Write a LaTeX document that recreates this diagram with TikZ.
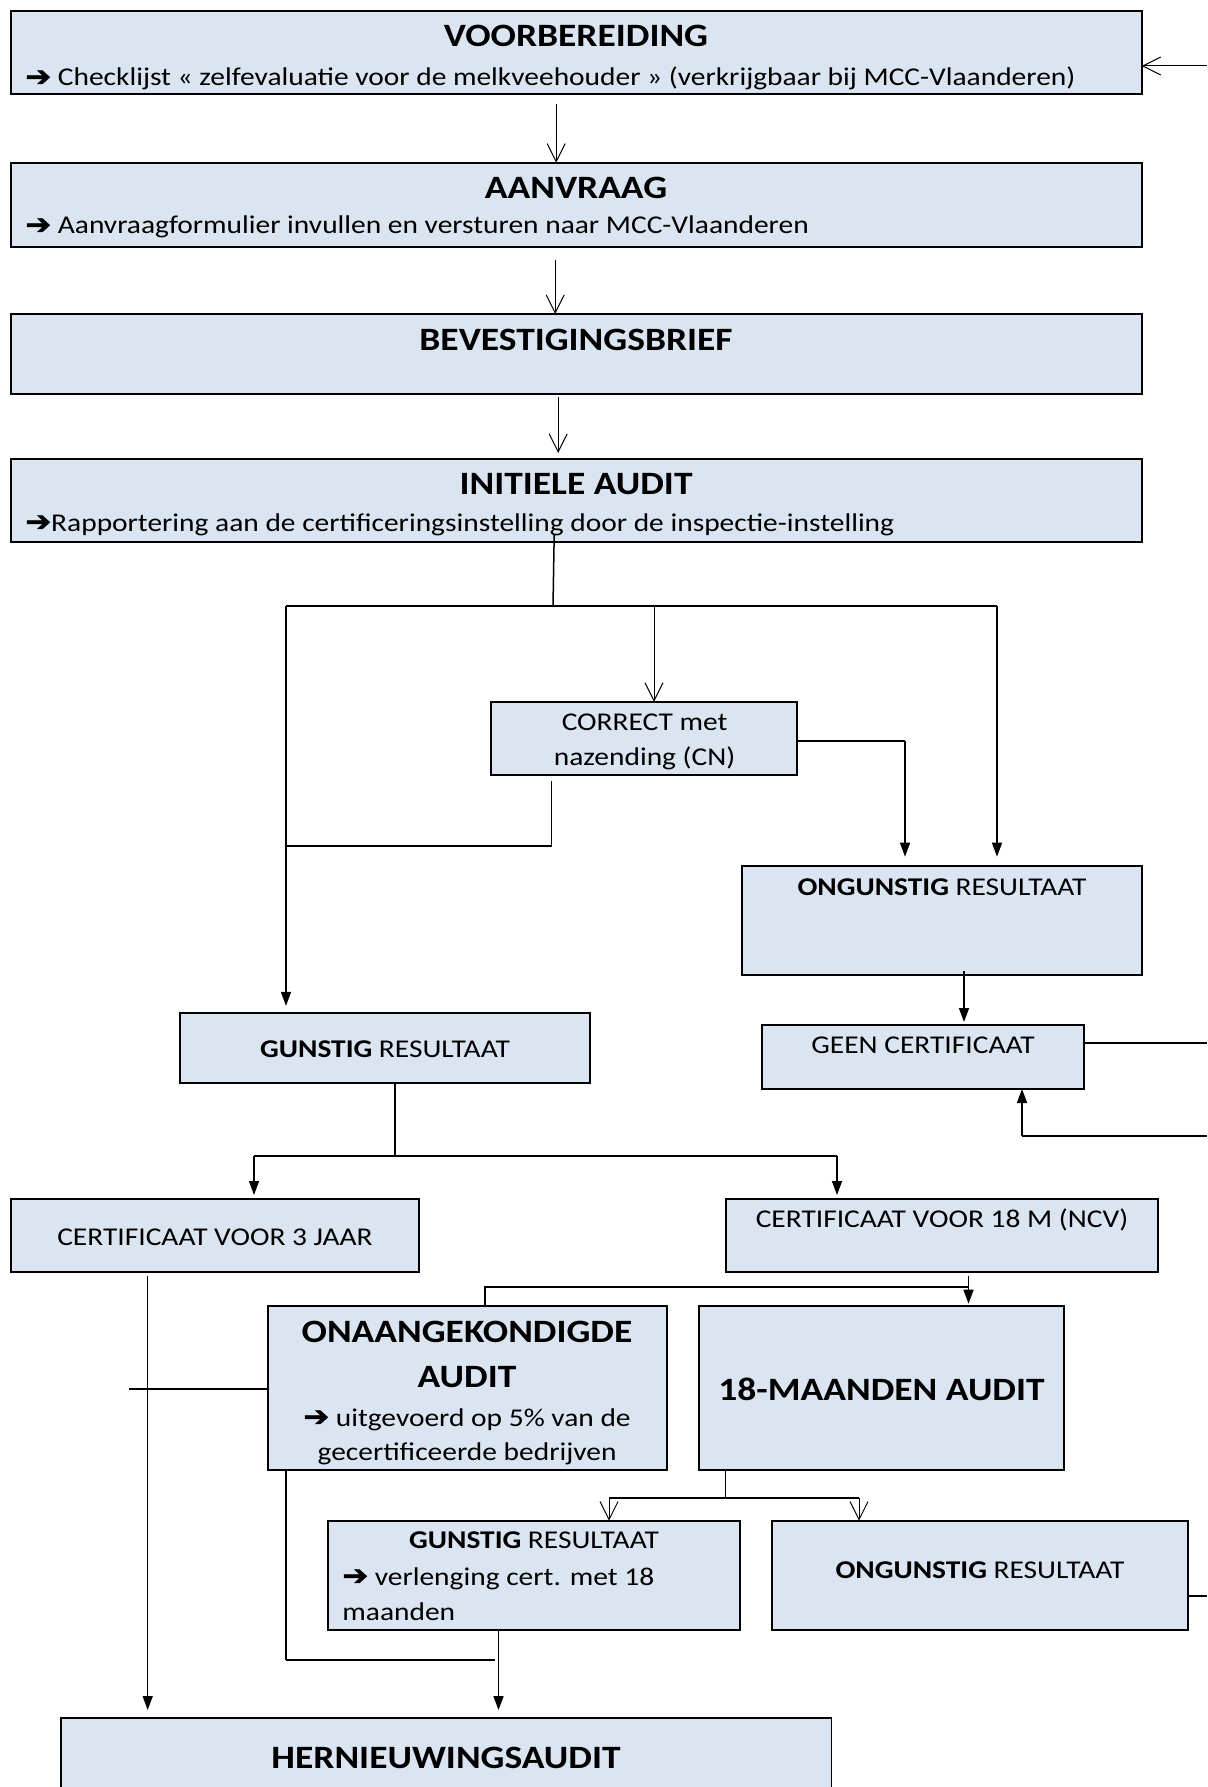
\documentclass[tikz,border=0pt]{standalone}
\usepackage{fontspec}
\setmainfont{Carlito}[FakeStretch=1.15]
\newfontfamily\symf{DejaVu Sans}[FakeStretch=1.1,FakeBold=2]
\usetikzlibrary{arrows.meta,fit,calc}
\definecolor{boxfill}{HTML}{DBE5F1}
\newcommand{\rarr}{{\symf\fontsize{14}{14}\selectfont ➔}}
\newcommand{\mybox}[5]{\path (#2,#3) coordinate (#1-a) (#4,#5) coordinate (#1-b); \node[box,fit=(#1-a)(#1-b)] (#1) {};}
\begin{document}
\begin{tikzpicture}[x=0.5pt,y=-0.5pt,
  box/.style={draw=black,fill=boxfill,line width=0.9pt,inner sep=0pt,outer sep=0pt},
  ttl/.style={anchor=base,inner sep=0pt,font=\fontsize{16.3}{19}\selectfont\bfseries},
  txt/.style={anchor=base west,inner sep=0pt,font=\fontsize{12.8}{15}\selectfont},
  stxt/.style={anchor=base,inner sep=0pt,font=\fontsize{12.8}{15}\selectfont},
  thinline/.style={line width=0.5pt},
  conn/.style={line width=0.75pt},
  heavyline/.style={line width=1.1pt},
  openarr/.style={thinline,-{Straight Barb[length=9pt,width=9pt]}},
  solidarr/.style={conn,-{Triangle[length=7pt,width=5pt]}}]
\useasboundingbox (0,0) rectangle (1207,1787);
\clip (0,0) rectangle (1207,1787);
\fill[white] (0,0) rectangle (1207,1787);

% boxes
\mybox{voor}{10.8}{11}{1141.6}{94.3}
\mybox{aanv}{10.8}{162.7}{1141.6}{246.7}
\mybox{bev}{10.8}{314}{1141.6}{394}
\mybox{init}{10.8}{459}{1141.6}{541.7}
\mybox{correct}{491}{701.8}{797}{775}
\mybox{ong}{742}{865.7}{1142}{975}
\mybox{gunstig}{180}{1012.9}{590}{1083.2}
\mybox{geen}{762}{1024.6}{1084}{1089}
\mybox{certa}{10.8}{1199}{419}{1272}
\mybox{certb}{725.6}{1199}{1158}{1272}
\mybox{onaang}{267.7}{1305.7}{667}{1470}
\mybox{maand}{699}{1305.7}{1064}{1470}
\mybox{guntwo}{327.7}{1520.7}{740}{1630}
\mybox{ongtwo}{772}{1520.7}{1188}{1630}
\mybox{hern}{60.8}{1718}{831.5}{1810}

% texts
\node[ttl] (voor-t) at (576,46.7) {VOORBEREIDING};
\node[txt] (voor-b) at (25,86) {\rarr{} Checklijst « zelfevaluatie voor de melkveehouder » (verkrijgbaar bij MCC-Vlaanderen)};
\node[ttl] (aanv-t) at (576,199) {AANVRAAG};
\node[txt] (aanv-b) at (25,234) {\rarr{} Aanvraagformulier invullen en versturen naar MCC-Vlaanderen};
\node[ttl] (bev-t) at (576,350.7) {BEVESTIGINGSBRIEF};
\node[ttl] (init-t) at (576,494) {INITIELE AUDIT};
\node[txt] (init-b) at (25,531) {\rarr{}Rapportering aan de certificeringsinstelling door de inspectie-instelling};
\node[stxt] (correct-t1) at (644.6,730) {CORRECT met};
\node[stxt] (correct-t2) at (644.6,765.7) {nazending (CN)};
\node[stxt] (ong-t) at (942,895) {\textbf{ONGUNSTIG} RESULTAAT};
\node[stxt] (gunstig-t) at (385,1057.9) {\textbf{GUNSTIG} RESULTAAT};
\node[stxt] (geen-t) at (923,1053) {GEEN CERTIFICAAT};
\node[stxt] (certa-t) at (215,1245) {CERTIFICAAT VOOR 3 JAAR};
\node[stxt] (certb-t) at (942,1227) {CERTIFICAAT VOOR 18 M (NCV)};
\node[ttl] (onaang-t1) at (467,1342) {ONAANGEKONDIGDE};
\node[ttl] (onaang-t2) at (467,1387) {AUDIT};
\node[stxt] (onaang-b1) at (467,1426) {\rarr{} uitgevoerd op 5\% van de};
\node[stxt] (onaang-b2) at (467,1460) {gecertificeerde bedrijven};
\node[ttl] (maand-t) at (881.5,1400) {18-MAANDEN AUDIT};
\node[stxt] (guntwo-t) at (534,1548.7) {\textbf{GUNSTIG} RESULTAAT};
\node[stxt,anchor=base west] (guntwo-b1) at (342,1585) {\rarr{} verlenging cert. met 18};
\node[stxt,anchor=base west] (guntwo-b2) at (342,1620) {maanden};
\node[stxt] (ongtwo-t) at (980,1578) {\textbf{ONGUNSTIG} RESULTAAT};
\node[ttl] (hern-t) at (446,1768) {HERNIEUWINGSAUDIT};

% connectors
\coordinate (inR) at (1207,66);
\draw[openarr] (inR) -- (inR -| voor.east);
\draw[openarr] ($(voor.south)+(-20,10)$) -- ($(aanv.north)+(-20,0)$);
\draw[openarr] ($(aanv.south)+(-21,13)$) -- ($(bev.north)+(-21,0)$);
\draw[openarr] ($(bev.south)+(-18,3)$) -- ($(init.north)+(-18,-6)$);

\coordinate (split) at (553,606);
\coordinate (hl) at (286,606);
\coordinate (hr) at (997,606);
\coordinate (hc) at (654,606);
\draw[conn] ($(init.south)+(-22,-7)$) -- (split);
\draw[heavyline] (hl) -- (hr);
\draw[openarr] (hc) -- (hc |- correct.north);
\coordinate (ce) at (905,741);
\draw[conn] (correct.east |- ce) -- (ce);
\draw[solidarr] (ce) -- ($(ce |- ong.north)+(0,-9)$);
\draw[solidarr] (hr) -- ($(hr |- ong.north)+(0,-9)$);
\draw[solidarr] (hl) -- ($(hl |- gunstig.north)+(0,-7)$);
\coordinate (cb) at (551.5,846);
\draw[conn] ($(cb |- correct.south)+(0,6)$) -- (cb);
\draw[heavyline] (cb) -- (cb -| hl);
\coordinate (og) at (964,971);
\draw[solidarr] (og) -- ($(og |- geen.north)+(0,-2.6)$);
\coordinate (gR) at (1207,1043);
\draw[conn] (gR -| geen.east) -- (gR);
\coordinate (lR) at (1207,1136);
\coordinate (lL) at (1022,1136);
\draw[heavyline] (lR) -- (lL);
\draw[solidarr] (lL) -- (lL |- geen.south);

\coordinate (gs) at (394.6,1155.7);
\coordinate (gl) at (254,1155.7);
\coordinate (gr) at (837,1155.7);
\draw[heavyline] (gs |- gunstig.south) -- (gs);
\draw[heavyline] (gl) -- (gr);
\draw[solidarr] (gl) -- ($(gl |- certa.north)+(0,-4)$);
\draw[solidarr] (gr) -- ($(gr |- certb.north)+(0,-4)$);

\coordinate (ca) at (147.7,1276);
\draw[solidarr] (ca) -- ($(ca |- hern.north)+(0,-8)$);
\coordinate (cbb) at (968.5,1276);
\draw[solidarr] (cbb) -- ($(cbb |- maand.north)+(0,-2)$);
\coordinate (cbl) at (484.6,1286.7);
\draw[heavyline] (cbl -| cbb) -- (cbl) -- (cbl |- onaang.north);
\coordinate (ow) at (129,1389);
\draw[heavyline] (ow) -- (ow -| onaang.west);
\coordinate (ob) at (286,1660);
\coordinate (obr) at (495,1660);
\draw[conn] (ob |- onaang.south) -- (ob);
\draw[heavyline] (ob) -- (obr);
\coordinate (mb) at (725.4,1497.7);
\coordinate (ml) at (609,1497.7);
\coordinate (mr) at (859,1497.7);
\draw[conn] (mb |- maand.south) -- (mb);
\draw[heavyline] (ml) -- (mr);
\draw[openarr] (ml) -- (ml |- guntwo.north);
\draw[openarr] (mr) -- (mr |- ongtwo.north);
\coordinate (otR) at (1207,1595.7);
\draw[heavyline] (otR -| ongtwo.east) -- (otR);
\coordinate (gt) at (498.5,1630);
\draw[solidarr] (gt) -- ($(gt |- hern.north)+(0,-8)$);
\end{tikzpicture}
\end{document}
